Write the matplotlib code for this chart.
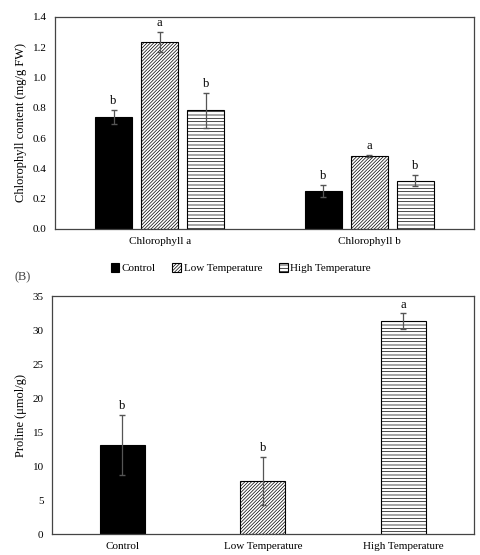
import matplotlib
matplotlib.use("Agg")
import matplotlib.pyplot as plt
from matplotlib.patches import Patch
import numpy as np

plt.rcParams['font.family'] = ['Liberation Serif', 'DejaVu Serif']
plt.rcParams['hatch.linewidth'] = 0.5

# Data
treatments = ["Control", "Low Temperature", "High Temperature"]
chl_groups = ["Chlorophyll a", "Chlorophyll b"]
chl_means = {
    "Control": [0.74, 0.25],
    "Low Temperature": [1.235, 0.48],
    "High Temperature": [0.785, 0.318],
}
chl_err = {
    "Control": [0.044, 0.04],
    "Low Temperature": [0.066, 0.006],
    "High Temperature": [0.115, 0.037],
}
chl_letters = {
    "Control": ["b", "b"],
    "Low Temperature": ["a", "a"],
    "High Temperature": ["b", "b"],
}
proline_means = [13.1, 7.8, 31.3]
proline_err = [4.45, 3.5, 1.15]
proline_letters = ["b", "b", "a"]

styles = {
    "Control": dict(facecolor="black", hatch=None),
    "Low Temperature": dict(facecolor="white", hatch="//////////"),
    "High Temperature": dict(facecolor="white", hatch="-----"),
}

fig = plt.figure(figsize=(4.81, 5.55), dpi=100)

# (A) chlorophyll
ax1 = fig.add_axes([0.1143, 0.5874, 0.871, 0.382])
x = np.arange(len(chl_groups))
w = 0.177
step = 0.22
for i, t in enumerate(treatments):
    pos = x + (i - 1) * step
    ax1.bar(pos, chl_means[t], width=w, edgecolor="black", linewidth=0.8,
            **styles[t])
    ax1.errorbar(pos, chl_means[t], yerr=chl_err[t], fmt="none",
                 ecolor="#555555", elinewidth=0.9, capsize=2.5)
    for p, m, e, l in zip(pos, chl_means[t], chl_err[t], chl_letters[t]):
        ax1.text(p, m + e + 0.02, l, ha="center", va="bottom", fontsize=9)
ax1.set_xlim(-0.5, 1.5)
ax1.set_ylim(0, 1.4)
ax1.set_yticks(np.arange(0, 1.41, 0.2))
ax1.set_yticklabels([f"{v:.1f}" for v in np.arange(0, 1.41, 0.2)])
ax1.set_xticks(x)
ax1.set_xticklabels(chl_groups)
ax1.set_ylabel("Chlorophyll content (mg/g FW)", fontsize=9)

# legend
handles = [Patch(edgecolor="black", linewidth=0.8, label=t, **styles[t])
           for t in treatments]
fig.legend(handles=handles, loc="center", bbox_to_anchor=(0.5, 0.517),
           ncol=3, frameon=False, fontsize=8, handlelength=0.8,
           handleheight=0.8, handletextpad=0.2, columnspacing=1.5)

fig.text(0.03, 0.5, "(B)", fontsize=9, va="center", color="#444444")

# (B) proline
ax2 = fig.add_axes([0.108, 0.0378, 0.877, 0.4288])
xp = np.arange(len(treatments))
for i, t in enumerate(treatments):
    ax2.bar(xp[i], proline_means[i], width=0.32, edgecolor="black",
            linewidth=0.8, **styles[t])
ax2.errorbar(xp, proline_means, yerr=proline_err, fmt="none",
             ecolor="#555555", elinewidth=0.9, capsize=2.5)
for p, m, e, l in zip(xp, proline_means, proline_err, proline_letters):
    ax2.text(p, m + e + 0.4, l, ha="center", va="bottom", fontsize=9)
ax2.set_xlim(-0.5, 2.5)
ax2.set_ylim(0, 35)
ax2.set_yticks(np.arange(0, 36, 5))
ax2.set_xticks(xp)
ax2.set_xticklabels(treatments)
ax2.set_ylabel("Proline (μmol/g)", fontsize=9)

for ax in (ax1, ax2):
    ax.tick_params(length=0, labelsize=8, pad=6)
    for s in ax.spines.values():
        s.set_color("#444444")
        s.set_linewidth(0.9)

fig.savefig("out.png", dpi=100)
